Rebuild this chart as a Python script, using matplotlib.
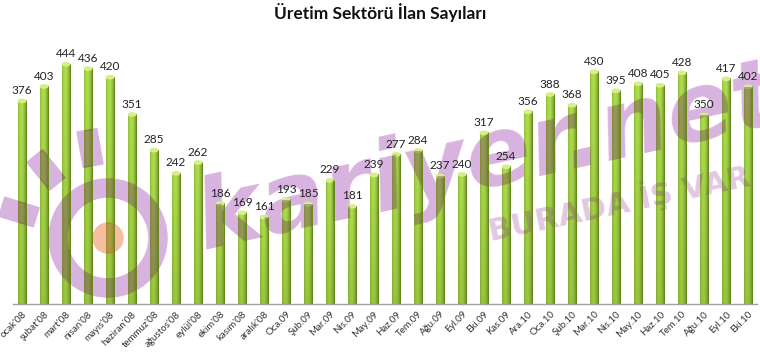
import numpy as np
import matplotlib.pyplot as plt
from matplotlib.patches import Ellipse, Circle, Rectangle
from matplotlib.path import Path
import matplotlib.transforms as mtransforms
from matplotlib.transforms import Bbox, TransformedBbox

plt.rcParams['font.family'] = ['Lato', 'DejaVu Sans']

months = ["ocak'08", "şubat'08", "mart'08", "nisan'08", "mayıs'08", "haziran'08",
          "temmuz'08", "ağustos'08", "eylül'08", "ekim'08", "kasım'08", "aralık'08",
          "Oca.09", "Şub.09", "Mar.09", "Nis.09", "May.09", "Haz.09", "Tem.09",
          "Ağu.09", "Eyl.09", "Eki.09", "Kas.09", "Ara.10", "Oca.10", "Şub.10",
          "Mar.10", "Nis.10", "May.10", "Haz.10", "Tem.10", "Ağu.10", "Eyl.10", "Eki.10"]
counts = [376, 403, 444, 436, 420, 351, 285, 242, 262, 186, 169, 161,
          193, 185, 229, 181, 239, 277, 284, 237, 240, 317, 254, 356,
          388, 368, 430, 395, 408, 405, 428, 350, 417, 402]

fig = plt.figure(figsize=(7.6, 3.54), dpi=100)
ax = fig.add_axes([13 / 760, 50 / 354, 744 / 760, 270 / 354])

# cylinder-like shading: dark edges, bright centre, a bit lighter at the top
xs = np.linspace(-1, 1, 40)
profile = np.clip(1 - (xs + 0.25) ** 2 / 1.6, 0, 1)
dark = np.array([0.36, 0.48, 0.10])
light = np.array([0.68, 0.87, 0.30])
ys = np.linspace(0, 1, 60)[:, None]
shade = profile[None, :] * (0.75 + 0.25 * ys)
img = dark + (light - dark) * shade[..., None]

w = 0.38
verts, codes = [], []
for i, v in enumerate(counts):
    ax.imshow(img, extent=(i - w / 2, i + w / 2, 0, v), origin='lower',
              aspect='auto', interpolation='bilinear', zorder=2)
    ax.add_patch(Ellipse((i, v), w * 0.9, 6, color='#d6ef8a', zorder=3))
    ax.text(i, v + 9, str(v), ha='center', va='bottom', fontsize=8.5,
            color='#222222', zorder=8)
    verts += [(i - w / 2, 0), (i + w / 2, 0), (i + w / 2, v), (i - w / 2, v), (0, 0)]
    codes += [Path.MOVETO, Path.LINETO, Path.LINETO, Path.LINETO, Path.CLOSEPOLY]
bar_clip = Path(verts, codes)

ax.set_xlim(-0.41, len(counts) - 0.59)
ax.set_ylim(0, 500)
ax.set_xticks(range(len(months)))
ax.set_xticklabels(months, rotation=45, ha='right', rotation_mode='anchor',
                   fontsize=7, color='#333333')
ax.tick_params(axis='x', length=0, pad=4)
ax.set_yticks([])
for s in ['top', 'right', 'left']:
    ax.spines[s].set_visible(False)
ax.spines['bottom'].set_color('#a0a0a0')
ax.spines['bottom'].set_linewidth(1)

fig.text(0.5, 0.965, 'Üretim Sektörü İlan Sayıları', ha='center', va='center',
         fontsize=12.5, fontweight='bold', color='#111111')


def wm_texts(main, sub, alpha, z, box=None):
    t1 = ax.text(0.268, 0.294, 'kariyer.net', transform=fig.transFigure, ha='left',
                 va='baseline', rotation_mode='anchor', rotation=12.4, fontsize=70,
                 fontweight='bold', fontstyle='italic', family='DejaVu Sans',
                 color=main, alpha=alpha, zorder=z)
    t2 = ax.text(0.815, 0.427, 'BURADA İŞ VAR', transform=fig.transFigure,
                 ha='center', va='center', rotation_mode='anchor', rotation=12,
                 fontsize=22, fontweight='bold', family='DejaVu Sans',
                 color=sub, alpha=alpha, zorder=z)
    for t in (t1, t2):
        if box is None:
            t.set_clip_on(False)
        else:
            t.set_clip_on(True)
            t.set_clip_box(box)


def wm_shapes(main, dot, alpha, z, clip):
    px = fig.dpi_scale_trans
    arts = [
        ax.add_artist(Circle((1.08, 1.16), 0.5, transform=px, fill=False, lw=14,
                             edgecolor=main, alpha=alpha)),
        ax.add_artist(Circle((1.08, 1.16), 0.15, transform=px, color=dot,
                             alpha=alpha)),
    ]
    for (cx, cy, ang) in [(0.19, 1.42, -17), (0.46, 1.84, -51), (0.90, 2.06, -80)]:
        tr = mtransforms.Affine2D().rotate_deg_around(cx, cy, ang) + px
        arts.append(ax.add_artist(Rectangle((cx - 0.18, cy - 0.10), 0.36, 0.20,
                                            transform=tr, color=main, alpha=alpha)))
    for a in arts:
        a.set_zorder(z)
        if clip:
            a.set_clip_on(True)
            a.set_clip_box(None)
            a.set_clip_path(bar_clip, ax.transData)
        else:
            a.set_clip_on(False)


# watermark on the white background, then a darker copy seen through the bars
wm_texts('#d9b3df', '#e3c8e3', 1.0, 1)
wm_shapes('#d9b3df', '#f6bd9e', 1.0, 1, False)
for i, v in enumerate(counts):
    box = TransformedBbox(Bbox([[i - w / 2, 0], [i + w / 2, v]]), ax.transData)
    wm_texts('#7a4a5a', '#8a6a6a', 0.45, 4, box)
wm_shapes('#7a4a5a', '#c06040', 0.45, 4, True)

fig.savefig('out.png', dpi=100)
